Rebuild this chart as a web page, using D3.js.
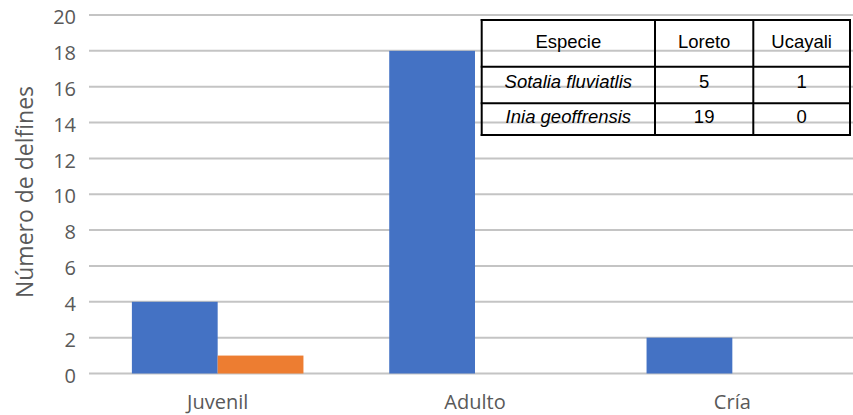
<!DOCTYPE html>
<html>
<head>
<meta charset="utf-8">
<script src="https://cdn.jsdelivr.net/npm/d3@7"></script>
<style>
  html, body { margin: 0; padding: 0; background: #fff; }
  svg { display: block; }
</style>
</head>
<body>
<svg id="chart" width="853" height="415"></svg>
<script>
// Dolphin counts by age class and region
const categories = ["Juvenil", "Adulto", "Cría"];
const regions = ["Loreto", "Ucayali"];
const loretoValues = [4, 18, 2];
const ucayaliValues = [1, 0, 0];
const yTicks = [0, 2, 4, 6, 8, 10, 12, 14, 16, 18, 20];

// Species summary table
const tableHeader = ["Especie", "Loreto", "Ucayali"];
const species = ["Sotalia fluviatlis", "Inia geoffrensis"];
const speciesLoreto = [5, 19];
const speciesUcayali = [1, 0];

const colors = { Loreto: "#4472C4", Ucayali: "#ED7D31" };
const series = [
  { name: "Loreto", values: loretoValues },
  { name: "Ucayali", values: ucayaliValues }
];

const svg = d3.select("#chart");
const W = 853;
const plot = { left: 89, right: 861, top: 15, bottom: 373.5 };

const x = d3.scaleBand().domain(categories).range([plot.left, plot.right])
  .paddingInner(1 / 3).paddingOuter(1 / 6);
const xs = d3.scaleBand().domain(regions).range([0, x.bandwidth()]);
const y = d3.scaleLinear().domain([0, 20]).range([plot.bottom, plot.top]);

// Horizontal gridlines
svg.append("g").selectAll("line").data(yTicks).join("line")
  .attr("x1", plot.left).attr("x2", W)
  .attr("y1", d => y(d)).attr("y2", d => y(d))
  .attr("stroke", "#c4c4c4").attr("stroke-width", 2);

// Y axis labels
const yAxis = d3.axisLeft(y).tickValues(yTicks).tickSize(0).tickPadding(0);
const gy = svg.append("g").attr("transform", "translate(76,0)").call(yAxis);
gy.select(".domain").remove();
gy.selectAll("text")
  .attr("fill", "#595959")
  .attr("dy", "0.43em")
  .style("font-family", "'Open Sans', sans-serif")
  .style("font-size", "20px");

// Bars
svg.append("g").selectAll("g").data(series).join("g")
  .attr("fill", d => colors[d.name])
  .selectAll("rect")
  .data(d => d.values.map((v, i) => ({ cat: categories[i], name: d.name, v })))
  .join("rect")
  .attr("x", d => x(d.cat) + xs(d.name))
  .attr("width", xs.bandwidth())
  .attr("y", d => y(d.v))
  .attr("height", d => y(0) - y(d.v));

// X axis labels
const xAxis = d3.axisBottom(x).tickSize(0).tickPadding(0);
const gx = svg.append("g").attr("transform", "translate(0,395)").call(xAxis);
gx.select(".domain").remove();
gx.selectAll("text")
  .attr("fill", "#595959")
  .attr("dy", "0.71em")
  .style("font-family", "'Open Sans', sans-serif")
  .style("font-size", "20px");

// Y axis title
svg.append("text")
  .attr("transform", "translate(33,192) rotate(-90)")
  .attr("text-anchor", "middle")
  .attr("fill", "#595959")
  .style("font-family", "'Open Sans', sans-serif")
  .style("font-size", "23px")
  .text("Número de delfines");

// Summary table (transparent cells, gridlines show through)
const colX = [481.7, 655, 753.3, 850];
const rowY = [20, 66.7, 103.3, 135];
const tbl = svg.append("g").attr("class", "table");
const rows = [tableHeader].concat(species.map((s, i) => [s, speciesLoreto[i], speciesUcayali[i]]));

tbl.selectAll("line.h").data(rowY).join("line").attr("class", "h")
  .attr("x1", colX[0] - 1).attr("x2", colX[3] + 1)
  .attr("y1", d => d).attr("y2", d => d)
  .attr("stroke", "#000").attr("stroke-width", 2);
tbl.selectAll("line.v").data(colX).join("line").attr("class", "v")
  .attr("x1", d => d).attr("x2", d => d)
  .attr("y1", rowY[0] - 1).attr("y2", rowY[3] + 1)
  .attr("stroke", "#000").attr("stroke-width", 2);

const baselines = [48.3, 87.5, 122.7];
rows.forEach((r, ri) => {
  r.forEach((cell, ci) => {
    tbl.append("text")
      .attr("x", (colX[ci] + colX[ci + 1]) / 2)
      .attr("y", baselines[ri])
      .attr("text-anchor", "middle")
      .attr("fill", "#000")
      .style("font-family", "'Liberation Sans', Arial, sans-serif")
      .style("font-size", "18.5px")
      .style("font-style", (ri > 0 && ci === 0) ? "italic" : "normal")
      .text(cell);
  });
});
</script>
</body>
</html>
